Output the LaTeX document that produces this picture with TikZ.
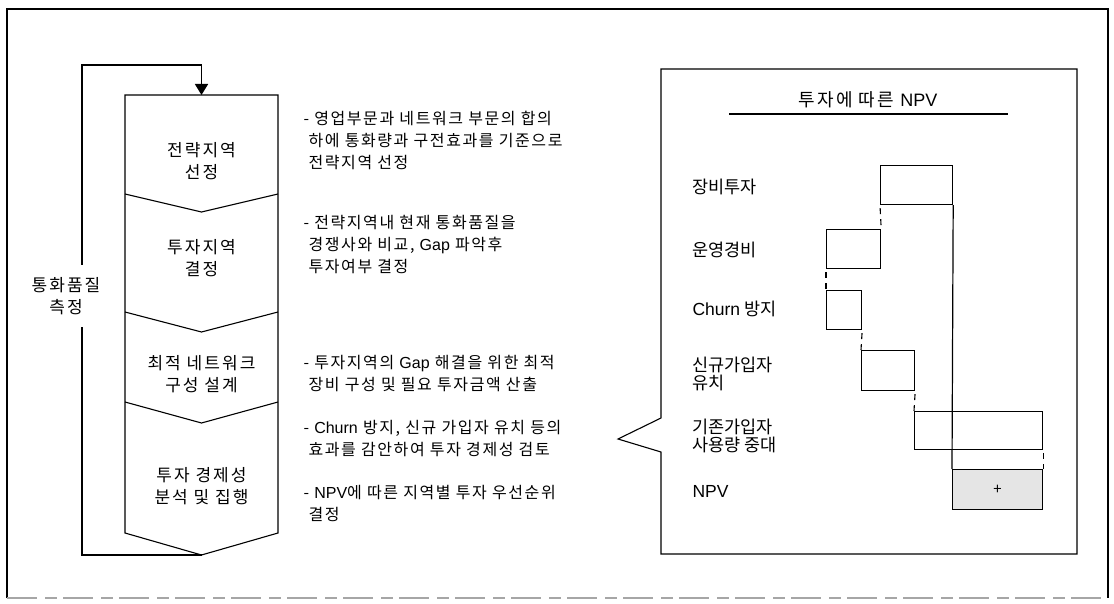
\documentclass[tikz,border=0pt]{standalone}
\usepackage{fontspec}
\setmainfont{Noto Sans CJK KR}
\newfontfamily\spacedfont[LetterSpace=12]{Noto Sans CJK KR}
\newfontfamily\descfont[LetterSpace=10]{Noto Sans CJK KR}
\newfontfamily\latfont{Liberation Sans}
\newcommand{\lat}[1]{{\latfont #1}}
\usetikzlibrary{arrows.meta}
\begin{document}
\begin{tikzpicture}[x=1pt,y=-1pt,line width=1.1pt,
  boxtext/.style={font=\spacedfont\fontsize{17}{22}\selectfont,inner sep=0pt,align=center},
  desc/.style={font=\descfont\fontsize{16}{22}\selectfont,inner sep=0pt,align=left,anchor=west},
  lbl/.style={font=\fontsize{17.5}{18}\selectfont,inner sep=0pt,align=left,anchor=west},
  bar/.style={draw,line width=1.2pt,inner sep=0pt,anchor=north west},
  link/.style={line width=1.1pt,dash pattern=on 6pt off 5pt,dash phase=8pt},
  loopline/.style={line width=1.6pt},
]
\useasboundingbox (0,0) rectangle (1114,604);
% outer frame
\draw (7,598) -- (7,9) -- (1108,9) -- (1108,598);
\draw[black!35,line width=1.6pt,dash pattern=on 30pt off 8pt on 12pt off 6pt] (7,598) -- (1108,598);

% flow column
\coordinate (fctop) at (201.5,95);
\coordinate (fcbot) at (201.5,555);
\draw (125,95) -- (278,95) -- (278,533) -- (fcbot) -- (125,533) -- cycle;
\draw (125,194) -- (201.5,212) -- (278,194);
\draw (125,312) -- (201.5,332) -- (278,312);
\draw (125,402) -- (201.5,423) -- (278,402);
\node[boxtext] (b1) at (201.5,161) {전략지역\\선정};
\node[boxtext] (b2) at (201.5,258.5) {투자지역\\결정};
\node[boxtext] (b3) at (201.5,374) {최적 네트워크\\구성 설계};
\node[boxtext] (b4) at (201.5,486) {투자 경제성\\분석 및 집행};

% feedback loop
\node[boxtext] (meas) at (66,296) {통화품질\\측정};
\coordinate (lb) at (82,555);
\coordinate (lg1) at (82,327);
\coordinate (lg2) at (82,265);
\coordinate (lt) at (82,65);
\coordinate (lr) at (201.5,65);
\draw[loopline] (fcbot) -- (lb) -- (lg1);
\draw[loopline,-{Triangle[width=13pt,length=11pt]}] (lg2) -- (lt) -- (lr) -- (fctop);

% descriptions
\node[desc] (d1) at (303,140.5) {- 영업부문과 네트워크 부문의 합의\\\hspace*{5pt}하에 통화량과 구전효과를 기준으로\\\hspace*{5pt}전략지역 선정};
\node[desc] (d2) at (303,245) {- 전략지역내 현재 통화품질을\\\hspace*{5pt}경쟁사와 비교, \lat{Gap} 파악후\\\hspace*{5pt}투자여부 결정};
\node[desc] (d3) at (303,374) {- 투자지역의 \lat{Gap} 해결을 위한 최적\\\hspace*{5pt}장비 구성 및 필요 투자금액 산출};
\node[desc] (d4) at (303,439) {- \lat{Churn} 방지, 신규 가입자 유치 등의\\\hspace*{5pt}효과를 감안하여 투자 경제성 검토};
\node[desc] (d5) at (303,503.5) {- \lat{NPV}에 따른 지역별 투자 우선순위\\\hspace*{5pt}결정};

% NPV panel with callout notch
\coordinate (ntip) at (618,439);
\draw (661,69) -- (1077,69) -- (1077,554) -- (661,554) -- (661,452) -- (ntip) -- (661,418) -- cycle;
\node[font=\spacedfont\fontsize{18}{20}\selectfont,inner sep=0pt] (title) at (868,100) {투자에 따른 \lat{NPV}};
\coordinate (ul1) at (729,114);
\coordinate (ul2) at (1008,114);
\draw (ul1) -- (ul2);

\node[lbl] (l1) at (692,187) {장비투자};
\node[lbl] (l2) at (692,250) {운영경비};
\node[lbl] (l3) at (692,309) {\lat{Churn} 방지};
\node[lbl] (l4) at (692,373.5) {신규가입자\\유치};
\node[lbl] (l5) at (692,436) {기존가입자\\사용량 중대};
\node[lbl] (l6) at (692,491) {\lat{NPV}};

\node[bar,minimum width=72pt,minimum height=39pt] (r1) at (880,165) {};
\node[bar,minimum width=54pt,minimum height=39pt] (r2) at (826,229) {};
\node[bar,minimum width=35pt,minimum height=39pt] (r3) at (826,290) {};
\node[bar,minimum width=53pt,minimum height=40pt] (r4) at (861,350) {};
\node[bar,minimum width=128pt,minimum height=38pt] (r5) at (914,411) {};
\node[bar,fill=black!10,minimum width=90pt,minimum height=40pt,font=\fontsize{15}{15}\selectfont] (r6) at (952,469) {+};

\draw[link] (r1.south west) -- (r2.north east);
\draw[link] (r2.south west) -- (r3.north west);
\draw[link] (r3.south east) -- (r4.north west);
\draw[link] (r4.south east) -- (r5.north west);
\draw[link] (r5.south east) -- (r6.north east);
\draw[line width=1.2pt] (r1.south east) -- (r6.north west);
\end{tikzpicture}
\end{document}
